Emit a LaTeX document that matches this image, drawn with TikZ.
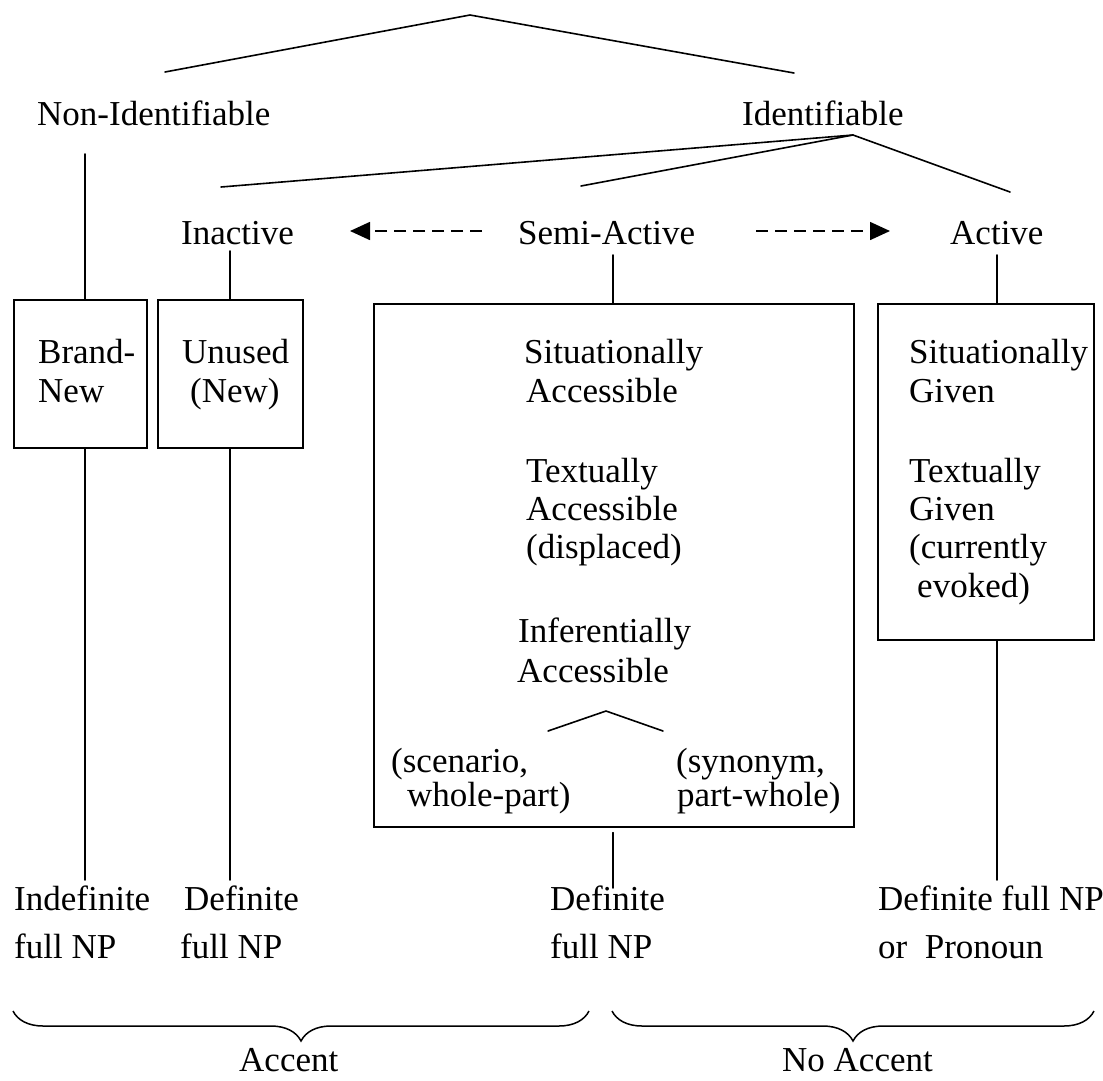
\documentclass[tikz,border=0pt]{standalone}
\usepackage{fontspec}
\setmainfont{Liberation Serif}
\usetikzlibrary{arrows.meta,decorations.pathreplacing}
\begin{document}
\begin{tikzpicture}[x=1pt,y=-1pt,
  lbl/.style={anchor=base west,inner sep=0pt,font=\fontsize{35}{39}\selectfont},
  ln/.style={line width=1.6pt,line cap=round},
  boxnode/.style={draw,line width=1.6pt,anchor=north west,inner sep=0pt,minimum width=#1},
  dasharrow/.style={line width=1.6pt,dash pattern=on 12pt off 7pt,-{Triangle[length=20pt,width=18pt]}},
  bracestyle/.style={line width=1.5pt,decorate,decoration={brace,amplitude=30pt}}
]
\useasboundingbox (0,0) rectangle (1103,1080);
% top level
\coordinate (apex) at (470,15);
\coordinate (nonidTop) at (165,72);
\coordinate (idTop) at (794,73);
\draw[ln] (nonidTop) -- (apex) -- (idTop);
\node[lbl] (nonid) at (37,125) {Non-Identifiable};
\node[lbl] (id) at (742,125) {Identifiable};
% identifiable branches
\coordinate (idApex) at (853,135);
\coordinate (inactTop) at (221,187);
\coordinate (semiTop) at (581,186);
\coordinate (actTop) at (1010,192);
\draw[ln] (inactTop) -- (idApex);
\draw[ln] (semiTop) -- (idApex);
\draw[ln] (actTop) -- (idApex);
\node[lbl] (inact) at (181,244) {Inactive};
\node[lbl] (semi) at (518,244) {Semi-Active};
\node[lbl] (act) at (950,244) {Active};
% dashed arrows
\coordinate (laS) at (482,231); \coordinate (laE) at (350,231);
\coordinate (raS) at (756,231); \coordinate (raE) at (890,231);
\draw[dasharrow] (laS) -- (laE);
\draw[dasharrow] (raS) -- (raE);
% boxes
\node[boxnode=133pt,minimum height=148pt] (brand) at (13,299) {};
\node[boxnode=145pt,minimum height=148pt] (unused) at (157,299) {};
\node[boxnode=480pt,minimum height=523pt] (sbox) at (373,303) {};
\node[boxnode=216pt,minimum height=336pt] (abox) at (877,303) {};
% verticals to boxes
\coordinate (nonidDown) at (85,154);
\coordinate (inactDown) at (230,251);
\coordinate (semiDown) at (613,255);
\coordinate (actDown) at (997,255);
\draw[ln] (nonidDown) -- (nonidDown |- brand.north);
\draw[ln] (inactDown) -- (inactDown |- unused.north);
\draw[ln] (semiDown) -- (semiDown |- sbox.north);
\draw[ln] (actDown) -- (actDown |- abox.north);
% box texts
\node[lbl] (b1) at (38,363) {Brand-};
\node[lbl] (b2) at (38,402) {New};
\node[lbl] (u1) at (182,363) {Unused};
\node[lbl] (u2) at (190,402) {(New)};
\node[lbl] (s1) at (524,363) {Situationally};
\node[lbl] (s2) at (526,402) {Accessible};
\node[lbl] (s3) at (526,482) {Textually};
\node[lbl] (s4) at (526,520) {Accessible};
\node[lbl] (s5) at (526,558) {(displaced)};
\node[lbl] (s6) at (518,642) {Inferentially};
\node[lbl] (s7) at (517,682) {Accessible};
\coordinate (subApex) at (606,711);
\coordinate (subL) at (548,731);
\coordinate (subR) at (663,731);
\draw[ln] (subL) -- (subApex) -- (subR);
\node[lbl] (sc1) at (391,772) {(scenario,};
\node[lbl] (sc2) at (407,806) {whole-part)};
\node[lbl] (sy1) at (676,772) {(synonym,};
\node[lbl] (sy2) at (677,806) {part-whole)};
\node[lbl] (a1) at (909,363) {Situationally};
\node[lbl] (a2) at (909,402) {Given};
\node[lbl] (a3) at (909,482) {Textually};
\node[lbl] (a4) at (909,520) {Given};
\node[lbl] (a5) at (909,558) {(currently};
\node[lbl] (a6) at (917,597) {evoked)};
% lower verticals
\coordinate (c1) at (85,880);
\coordinate (c2) at (230,880);
\coordinate (c3) at (613,888);
\coordinate (c4) at (997,880);
\draw[ln] (brand.south -| c1) -- (c1);
\draw[ln] (unused.south -| c2) -- (c2);
\draw[ln] ([yshift=-5pt]sbox.south -| c3) -- (c3);
\draw[ln] (abox.south -| c4) -- (c4);
% bottom labels
\node[lbl] (f1) at (14,910) {Indefinite};
\node[lbl] (f2) at (14,958) {full NP};
\node[lbl] (g1) at (184,910) {Definite};
\node[lbl] (g2) at (180,958) {full NP};
\node[lbl] (h1) at (550,910) {Definite};
\node[lbl] (h2) at (550,958) {full NP};
\node[lbl] (k1) at (878,910) {Definite full NP};
\node[lbl] (k2) at (878,958) {or\ \ Pronoun};
% braces
\coordinate (br1a) at (589,1011); \coordinate (br1b) at (13,1011);
\coordinate (br2a) at (1094,1011); \coordinate (br2b) at (612,1011);
\draw[bracestyle] (br1a) -- (br1b);
\draw[bracestyle] (br2a) -- (br2b);
\node[lbl] (acc) at (239,1071) {Accent};
\node[lbl] (noacc) at (782,1071) {No Accent};
\end{tikzpicture}
\end{document}
